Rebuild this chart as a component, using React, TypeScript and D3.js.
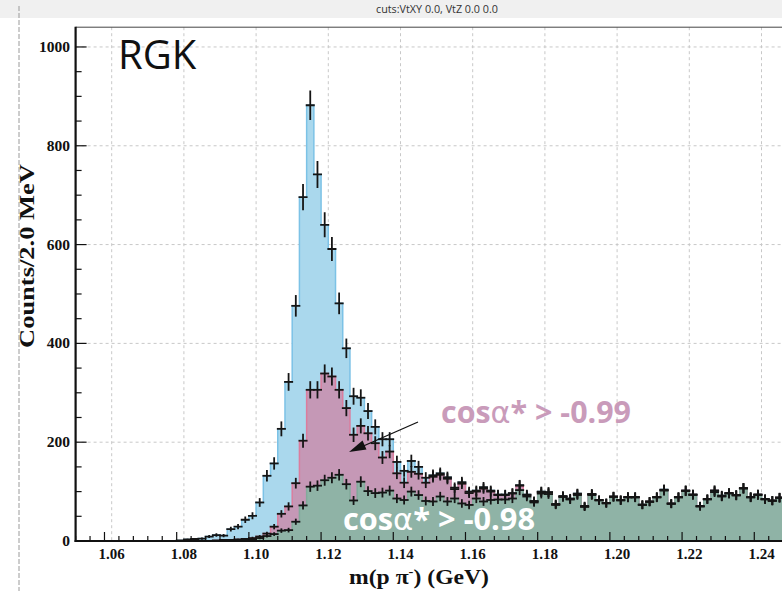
import React from 'react';
import * as d3 from 'd3';

const histLow = 1.05;
const histHigh = 1.25;
const binWidth = 0.002;

// all candidates (blue)
const countsAll = [
  0, 0, 0, 0, 0, 0, 0, 0, 0, 0,
  0, 0, 0, 0, 1, 3, 4, 5, 9, 12,
  11, 24, 29, 43, 51, 78, 132, 157, 227, 322,
  476, 696, 882, 742, 640, 591, 481, 390, 293, 290,
  263, 231, 206, 206, 160, 142, 162, 150, 128, 133,
  137, 129, 108, 119, 100, 102, 109, 102, 94, 94,
  97, 113, 94, 81, 100, 99, 75, 91, 86, 96,
  71, 95, 83, 77, 90, 83, 89, 89, 74, 80,
  89, 104, 76, 89, 102, 94, 71, 85, 102, 92,
  97, 93, 107, 89, 94, 85, 82, 88, 90, 86,
];

// cos alpha* > -0.99 (pink)
const countsCut99 = [
  0, 0, 0, 0, 0, 0, 0, 0, 0, 0,
  0, 0, 0, 0, 0, 0, 0, 0, 0, 1,
  2, 2, 3, 4, 6, 9, 15, 29, 55, 70,
  117, 203, 306, 306, 339, 333, 306, 269, 215, 233,
  218, 198, 169, 181, 137, 118, 140, 136, 118, 130,
  134, 126, 105, 116, 97, 100, 106, 100, 93, 93,
  96, 112, 93, 80, 99, 98, 74, 90, 85, 95,
  70, 95, 83, 77, 90, 83, 89, 89, 73, 80,
  89, 103, 76, 89, 102, 94, 70, 85, 102, 91,
  97, 93, 107, 89, 94, 85, 82, 88, 90, 86,
];

// cos alpha* > -0.98 (green)
const countsCut98 = [
  0, 0, 0, 0, 0, 0, 0, 0, 0, 0,
  0, 0, 0, 0, 0, 0, 0, 0, 0, 0,
  0, 1, 1, 2, 3, 6, 10, 14, 21, 22,
  39, 72, 110, 112, 123, 128, 134, 115, 82, 120,
  101, 97, 98, 102, 86, 83, 100, 93, 81, 80,
  90, 80, 86, 76, 73, 86, 80, 83, 84, 84,
  86, 103, 90, 78, 96, 95, 73, 89, 84, 93,
  69, 93, 82, 76, 89, 82, 88, 88, 73, 79,
  88, 102, 75, 88, 101, 93, 70, 84, 99, 90,
  96, 92, 106, 88, 93, 84, 81, 87, 89, 85,
];

const xMajorTicks = [1.06, 1.08, 1.1, 1.12, 1.14, 1.16, 1.18, 1.2, 1.22, 1.24];
const xTickLabels = ['1.06', '1.08', '1.10', '1.12', '1.14', '1.16', '1.18', '1.20', '1.22', '1.24'];
const yMajorTicks = [0, 200, 400, 600, 800, 1000];
const yTickLabels = ['0', '200', '400', '600', '800', '1000'];

const titleText = 'cuts:VtXY 0.0, VtZ 0.0  0.0';
const yTitle = 'Counts/2.0 MeV';
const labelCut99 = ['cos', 'α', '* > -0.99'];
const labelCut98 = ['cos', 'α', '* > -0.98'];
const labelRGK = 'RGK';

const W = 782;
const H = 591;
const plotLeft = 75.6;
const plotRight = 797.6;
const plotTop = 27.2;
const plotBottom = 541;

const serif = '"Liberation Serif", "Times New Roman", serif';
const sans = '"Open Sans", "Noto Sans", sans-serif';
const greek = '"DejaVu Sans", "Noto Sans", sans-serif';

export default function App() {
  const x = d3.scaleLinear().domain([histLow, histHigh]).range([plotLeft, plotRight]);
  const y = d3.scaleLinear().domain([0, 1040]).range([plotBottom, plotTop]);

  const stepPoints = (counts: number[]) => {
    const pts: [number, number][] = counts.map((c, i) => [histLow + i * binWidth, c]);
    pts.push([histLow + counts.length * binWidth, counts[counts.length - 1]]);
    return pts;
  };
  const area = d3
    .area<[number, number]>()
    .x((d) => x(d[0]))
    .y0(y(0))
    .y1((d) => y(d[1]))
    .curve(d3.curveStepAfter);
  const line = d3
    .line<[number, number]>()
    .x((d) => x(d[0]))
    .y((d) => y(d[1]))
    .curve(d3.curveStepAfter);

  const series = [
    { counts: countsAll, fill: '#aad8ed', stroke: '#7cc2e6' },
    { counts: countsCut99, fill: '#c598b6', stroke: '#db7d9e' },
    { counts: countsCut98, fill: '#8fb3a6', stroke: '#82aa9b' },
  ];

  const xMinor = d3.range(0, 51).map((k) => histLow + k * 0.004);
  const yMinor = d3.range(0, 21).map((k) => k * 50);

  const errorBars = (counts: number[], key: string) =>
    counts.map((c, i) => {
      if (c <= 0) return null;
      const lo = histLow + i * binWidth;
      const hi = lo + binWidth;
      const mid = lo + binWidth / 2;
      const e = Math.sqrt(c);
      return (
        <g key={key + i}>
          <line x1={x(lo)} x2={x(hi)} y1={y(c)} y2={y(c)} stroke="#151515" strokeWidth={1.8} strokeLinecap="square" />
          <line x1={x(mid)} x2={x(mid)} y1={y(c - e)} y2={y(c + e)} stroke="#151515" strokeWidth={1.8} />
        </g>
      );
    });

  return (
    <svg width={W} height={H} style={{ position: 'absolute', left: 0, top: 0, background: '#fff' }}>
      <defs>
        <clipPath id="plotClip">
          <rect x={plotLeft} y={plotTop} width={plotRight - plotLeft} height={plotBottom - plotTop} />
        </clipPath>
      </defs>
      <rect x={0} y={0} width={W} height={H} fill="#fff" />
      <rect x={0} y={0} width={W} height={18} fill="#f0f0f0" />
      <line x1={19} x2={19} y1={6} y2={H} stroke="#9a9a9a" strokeWidth={1} strokeDasharray="5 2" />
      <text x={437} y={13} textAnchor="middle" fontFamily={sans} fontSize={10} fill="#333" textLength={122} lengthAdjust="spacingAndGlyphs">
        {titleText}
      </text>

      {/* grid */}
      {xMajorTicks.map((t) => (
        <line key={'gx' + t} x1={x(t)} x2={x(t)} y1={plotTop} y2={plotBottom} stroke="#c8c8c8" strokeWidth={1} strokeDasharray="3 3" />
      ))}
      {yMajorTicks.slice(1).map((t) => (
        <line key={'gy' + t} x1={plotLeft} x2={plotRight} y1={y(t)} y2={y(t)} stroke="#c8c8c8" strokeWidth={1} strokeDasharray="3 3" />
      ))}

      <g clipPath="url(#plotClip)">
        {series.map((s, k) => (
          <g key={'s' + k}>
            <path d={area(stepPoints(s.counts)) || ''} fill={s.fill} />
            <path d={line(stepPoints(s.counts)) || ''} fill="none" stroke={s.stroke} strokeWidth={1.5} />
          </g>
        ))}
        {errorBars(countsAll, 'a')}
        {errorBars(countsCut99, 'b')}
        {errorBars(countsCut98, 'c')}
      </g>

      {/* frame & axes */}
      <line x1={plotLeft} x2={plotRight} y1={plotTop} y2={plotTop} stroke="#444" strokeWidth={1} />
      <line x1={plotLeft} x2={plotLeft} y1={plotTop - 0.5} y2={plotBottom + 1} stroke="#111" strokeWidth={2.2} />
      <line x1={plotLeft - 1} x2={plotRight} y1={plotBottom} y2={plotBottom} stroke="#111" strokeWidth={2.2} />

      {xMinor.map((t, k) => {
        const major = k % 5 === 2;
        return (
          <line key={'xt' + k} x1={x(t)} x2={x(t)} y1={plotBottom} y2={plotBottom - (major ? 9 : 5)} stroke="#111" strokeWidth={1.2} />
        );
      })}
      {yMinor.map((t, k) => {
        const major = t % 200 === 0;
        return (
          <line key={'yt' + k} x1={plotLeft} x2={plotLeft + (major ? 11 : 6)} y1={y(t)} y2={y(t)} stroke="#111" strokeWidth={1.2} />
        );
      })}

      {xMajorTicks.map((t, k) => (
        <text key={'xl' + t} x={x(t)} y={559} textAnchor="middle" fontFamily={serif} fontWeight="bold" fontSize={15} fill="#111">
          {xTickLabels[k]}
        </text>
      ))}
      {yMajorTicks.map((t, k) => (
        <text key={'yl' + t} x={70} y={y(t) + 5} textAnchor="end" fontFamily={serif} fontWeight="bold" fontSize={15.5} fill="#111">
          {yTickLabels[k]}
        </text>
      ))}

      <text x={419} y={584} textAnchor="middle" fontFamily={serif} fontWeight="bold" fontSize={21} fill="#111" textLength={140} lengthAdjust="spacingAndGlyphs">
        m(p π<tspan dy={-8} fontSize={13}>-</tspan><tspan dy={8}>) (GeV)</tspan>
      </text>
      <text transform="translate(34,256) rotate(-90)" textAnchor="middle" fontFamily={serif} fontWeight="bold" fontSize={21} fill="#111" textLength={184} lengthAdjust="spacingAndGlyphs">
        {yTitle}
      </text>

      <text x={118} y={69} fontFamily={sans} fontSize={40} fill="#111">
        {labelRGK}
      </text>
      <text x={441} y={423} fontFamily={sans} fontWeight="bold" fontSize={30} fill="#c99bba" textLength={190} lengthAdjust="spacingAndGlyphs">
        {labelCut99[0]}<tspan fontFamily={greek} fontWeight="normal">{labelCut99[1]}</tspan>{labelCut99[2]}
      </text>
      <text x={343} y={530} fontFamily={sans} fontWeight="bold" fontSize={30} fill="#ffffff" textLength={192} lengthAdjust="spacingAndGlyphs">
        {labelCut98[0]}<tspan fontFamily={greek} fontWeight="normal">{labelCut98[1]}</tspan>{labelCut98[2]}
      </text>

      {/* arrow */}
      <line x1={418} y1={422} x2={360} y2={447.5} stroke="#111" strokeWidth={1.3} />
      <path d="M349,452 L362.5,440.5 L366.5,449.5 Z" fill="#111" />
    </svg>
  );
}
